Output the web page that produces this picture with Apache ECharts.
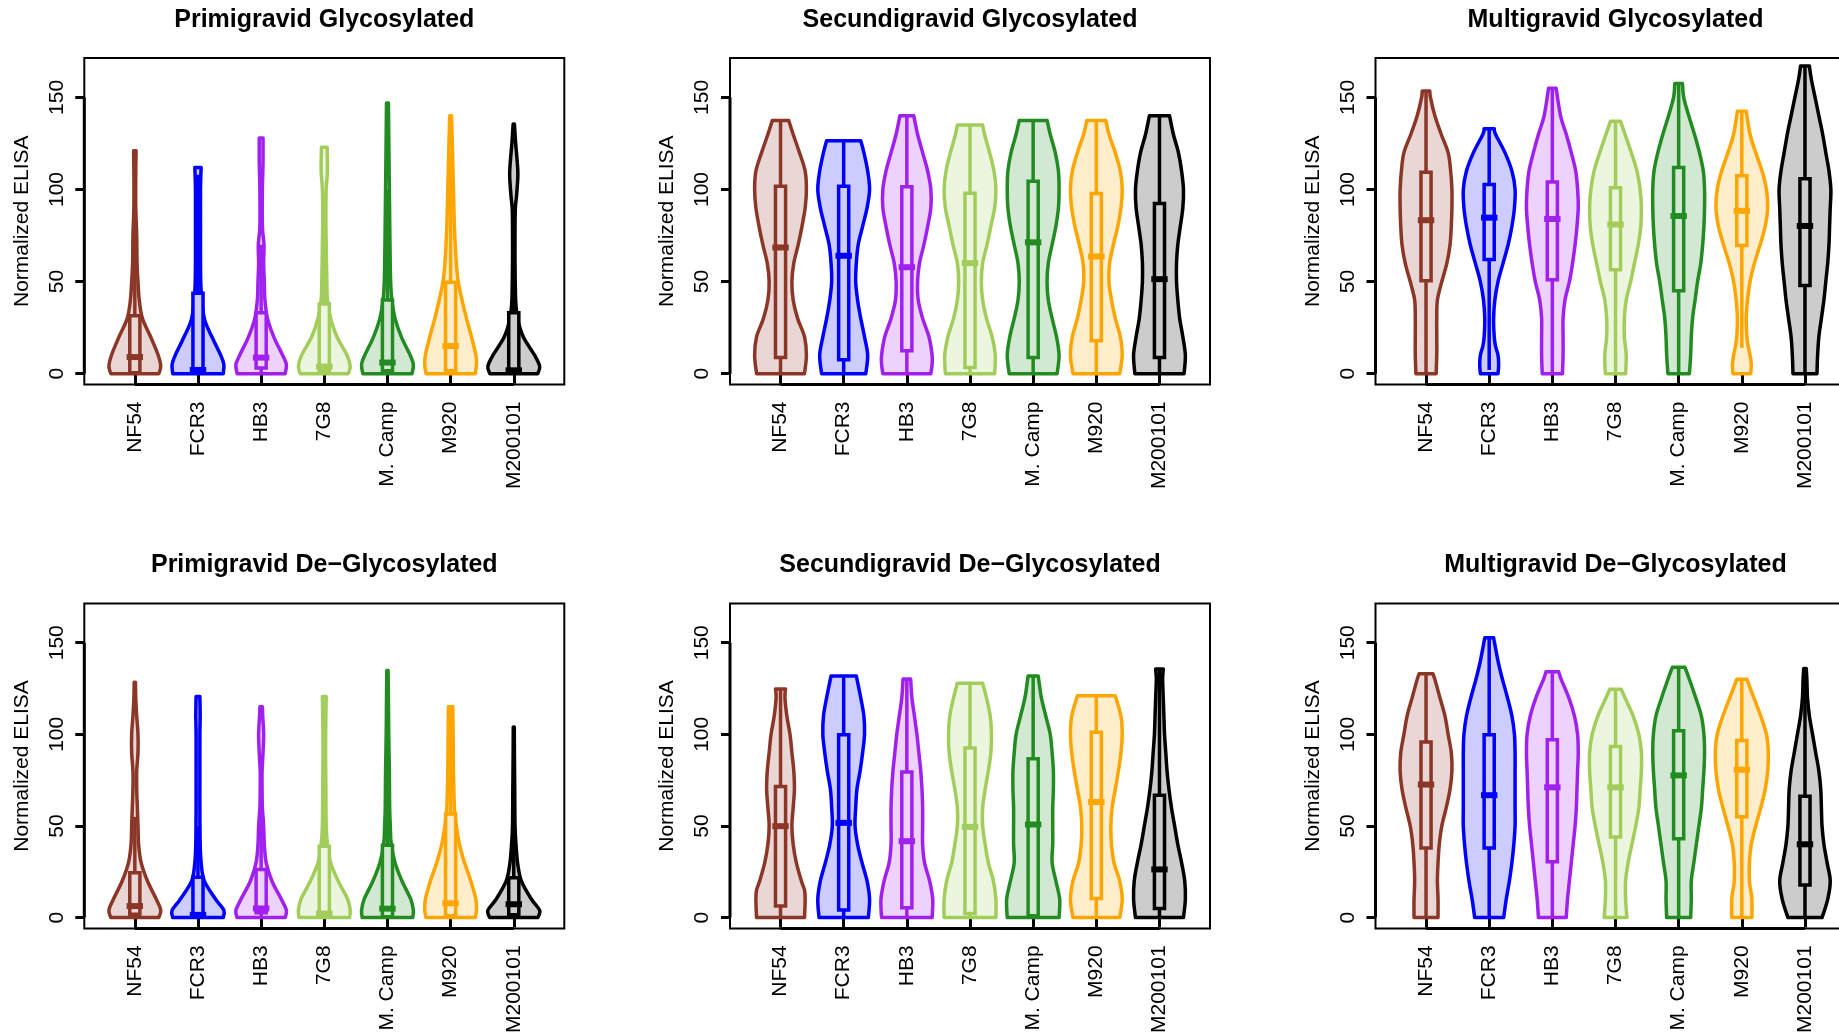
<!DOCTYPE html>
<html><head><meta charset="utf-8">
<script src="https://cdn.jsdelivr.net/npm/echarts@6/dist/echarts.min.js"></script>
<style>html,body{margin:0;padding:0;background:#fff;overflow:hidden}#c{width:1900px;height:1036px}</style>
</head><body><div id="c"></div>
<script>
// ---------- data ----------
const categories = ['NF54', 'FCR3', 'HB3', '7G8', 'M. Camp', 'M920', 'M200101'];
const xTicks = [1, 2, 3, 4, 5, 6, 7];
const yTicks = [0, 50, 100, 150];
const panelTitles = ['Primigravid Glycosylated', 'Secundigravid Glycosylated', 'Multigravid Glycosylated',
  'Primigravid De\u2212Glycosylated', 'Secundigravid De\u2212Glycosylated', 'Multigravid De\u2212Glycosylated'];
const yName = 'Normalized ELISA';
const borderColors = ['#8B3626', '#0000FF', '#A020F0', '#A2CD5A', '#228B22', '#FFA500', '#000000'];
const fillColors = ['#E8D7D4', '#CCCCFF', '#ECD2FC', '#ECF5DE', '#D3E8D3', '#FFEDCC', '#CCCCCC'];

// violin outlines: [value, half-width in category units]
const primiGlyShapes = [
  [[0,.38],[4,.41],[10,.37],[20,.25],[30,.12],[40,.07],[50,.05],[60,.035],[75,.03],[90,.015],[110,.015],[121,.02]],
  [[0,.40],[5,.41],[10,.36],[20,.22],[30,.10],[45,.05],[60,.04],[80,.04],[100,.04],[112,.05]],
  [[0,.38],[5,.40],[10,.34],[20,.20],[30,.10],[40,.06],[50,.05],[60,.04],[70,.045],[80,.02],[100,.02],[115,.03],[128,.03]],
  [[0,.38],[4,.41],[10,.36],[20,.20],[30,.10],[40,.05],[50,.04],[70,.03],[85,.025],[100,.03],[110,.05],[123,.045]],
  [[0,.39],[5,.41],[10,.36],[20,.22],[30,.12],[40,.07],[50,.05],[70,.04],[100,.03],[130,.02],[147,.015]],
  [[0,.39],[5,.41],[10,.40],[20,.33],[30,.25],[40,.18],[50,.12],[60,.09],[80,.06],[100,.045],[120,.03],[140,.015]],
  [[0,.38],[4,.41],[10,.33],[20,.15],[30,.06],[40,.03],[60,.02],[80,.02],[90,.025],[97,.045],[108,.065],[117,.05],[125,.03],[135.5,.01]]
];
const secGlyShapes = [
  [[0,.38],[10,.41],[20,.38],[30,.27],[40,.20],[50,.18],[60,.21],[70,.28],[80,.34],[90,.39],[100,.41],[110,.39],[120,.30],[130,.20],[137.5,.13]],
  [[0,.35],[10,.38],[20,.33],[30,.27],[40,.22],[50,.19],[60,.20],[70,.23],[80,.30],[90,.37],[100,.41],[110,.38],[120,.32],[126.5,.27]],
  [[0,.38],[5,.40],[10,.40],[20,.35],[30,.25],[40,.18],[50,.17],[60,.20],[70,.27],[80,.33],[90,.38],[100,.38],[110,.33],[120,.25],[130,.17],[140,.11]],
  [[0,.39],[10,.40],[20,.35],[30,.26],[40,.20],[50,.18],[60,.20],[70,.27],[80,.33],[90,.39],[100,.41],[110,.38],[120,.31],[130,.23],[135,.20]],
  [[0,.38],[10,.41],[20,.37],[30,.30],[40,.24],[50,.22],[60,.24],[70,.30],[80,.36],[90,.40],[100,.41],[110,.40],[120,.35],[130,.27],[137.5,.22]],
  [[0,.37],[10,.41],[20,.38],[30,.30],[40,.24],[50,.20],[60,.21],[70,.27],[80,.34],[90,.39],[100,.41],[110,.38],[120,.30],[130,.20],[137.5,.15]],
  [[0,.39],[10,.41],[20,.37],[30,.32],[40,.29],[50,.27],[60,.27],[70,.29],[80,.33],[90,.37],[100,.38],[110,.35],[120,.30],[130,.22],[140,.16]]
];
const multiGlyShapes = [
  [[0,.16],[10,.17],[20,.17],[30,.17],[40,.18],[50,.25],[60,.33],[70,.38],[80,.40],[90,.41],[100,.41],[110,.39],[120,.35],[130,.24],[140,.14],[150,.07],[153.5,.06]],
  [[0,.14],[5,.15],[10,.14],[15,.10],[20,.08],[30,.07],[40,.09],[50,.14],[60,.22],[70,.30],[80,.36],[90,.40],[100,.41],[110,.36],[120,.25],[130,.10],[133,.08]],
  [[0,.16],[10,.17],[20,.17],[30,.17],[40,.20],[50,.27],[60,.32],[70,.36],[80,.39],[90,.41],[100,.40],[110,.37],[120,.30],[130,.22],[140,.13],[155,.06]],
  [[0,.16],[10,.17],[20,.14],[30,.14],[40,.17],[50,.24],[60,.30],[70,.36],[80,.40],[90,.41],[100,.39],[110,.34],[120,.25],[130,.15],[137,.08]],
  [[0,.17],[10,.19],[20,.20],[30,.22],[40,.26],[50,.30],[60,.35],[70,.38],[80,.40],[90,.41],[100,.41],[110,.39],[120,.33],[130,.25],[140,.16],[150,.08],[157.5,.06]],
  [[0,.14],[5,.15],[10,.13],[15,.10],[20,.08],[30,.07],[40,.09],[50,.13],[60,.20],[70,.29],[80,.37],[90,.41],[100,.39],[110,.32],[120,.22],[130,.13],[142.5,.07]],
  [[0,.19],[10,.20],[20,.22],[30,.26],[40,.30],[50,.33],[60,.36],[70,.38],[80,.39],[90,.40],[100,.41],[110,.38],[120,.33],[130,.28],[140,.22],[150,.16],[160,.10],[167,.07]]
];
const primiDeShapes = [
  [[0,.38],[4,.41],[10,.34],[20,.20],[30,.10],[40,.06],[50,.05],[60,.04],[70,.03],[80,.03],[90,.05],[100,.05],[110,.03],[120,.015],[128.4,.01]],
  [[0,.40],[4,.41],[10,.28],[20,.10],[30,.05],[40,.035],[60,.03],[80,.03],[100,.03],[110,.035],[120.6,.03]],
  [[0,.38],[4,.40],[10,.32],[20,.17],[30,.08],[40,.05],[50,.04],[60,.02],[70,.015],[80,.015],[90,.03],[100,.04],[110,.025],[115,.02]],
  [[0,.40],[4,.41],[10,.37],[20,.22],[30,.10],[40,.05],[50,.03],[70,.025],[90,.02],[110,.025],[120.6,.03]],
  [[0,.40],[4,.41],[10,.37],[20,.23],[30,.12],[40,.06],[50,.045],[60,.035],[80,.03],[100,.02],[120,.015],[134.8,.01]],
  [[0,.39],[4,.41],[10,.40],[20,.32],[30,.22],[40,.14],[50,.09],[60,.06],[80,.045],[100,.04],[115,.035]],
  [[0,.38],[4,.41],[10,.28],[20,.12],[30,.06],[40,.035],[50,.02],[70,.015],[90,.01],[104,.008]]
];
const secDeShapes = [
  [[0,.38],[10,.39],[15,.38],[20,.33],[30,.25],[40,.20],[50,.18],[60,.20],[70,.22],[80,.21],[90,.18],[100,.15],[110,.10],[120,.07],[124.8,.08]],
  [[0,.39],[10,.41],[20,.37],[30,.29],[40,.22],[50,.18],[60,.19],[70,.21],[80,.26],[90,.30],[100,.33],[110,.32],[120,.27],[131.9,.20]],
  [[0,.40],[10,.41],[20,.36],[30,.28],[40,.25],[50,.25],[60,.25],[70,.24],[80,.22],[90,.19],[100,.16],[110,.12],[120,.08],[130.2,.06]],
  [[0,.41],[10,.41],[20,.37],[30,.29],[40,.24],[50,.20],[60,.20],[70,.24],[80,.29],[90,.33],[100,.34],[110,.32],[120,.26],[127.9,.20]],
  [[0,.41],[10,.42],[20,.36],[30,.30],[40,.31],[50,.31],[60,.31],[70,.32],[80,.32],[90,.30],[100,.27],[110,.20],[120,.13],[131.9,.08]],
  [[0,.37],[10,.41],[20,.37],[30,.28],[40,.24],[50,.23],[60,.25],[70,.30],[80,.35],[90,.39],[100,.41],[110,.39],[121,.30]],
  [[0,.38],[10,.41],[20,.40],[30,.35],[40,.29],[50,.24],[60,.19],[70,.15],[80,.12],[90,.10],[100,.08],[110,.07],[120,.06],[130,.05],[135.7,.06]]
];
const multiDeShapes = [
  [[0,.19],[10,.19],[20,.18],[30,.19],[40,.21],[50,.25],[60,.32],[70,.38],[80,.41],[90,.40],[100,.35],[110,.30],[120,.22],[130,.14],[133,.11]],
  [[0,.23],[10,.27],[20,.32],[30,.36],[40,.39],[50,.41],[60,.41],[70,.41],[80,.41],[90,.41],[100,.40],[110,.36],[120,.29],[130,.21],[140,.14],[152.7,.07]],
  [[0,.22],[10,.24],[20,.27],[30,.30],[40,.33],[50,.36],[60,.38],[70,.39],[80,.40],[90,.41],[100,.40],[110,.35],[120,.26],[130,.14],[134.2,.10]],
  [[0,.18],[10,.16],[20,.16],[30,.20],[40,.26],[50,.32],[60,.37],[70,.39],[80,.41],[90,.41],[100,.37],[110,.28],[120,.15],[124.6,.09]],
  [[0,.19],[10,.20],[20,.20],[30,.24],[40,.28],[50,.32],[60,.36],[70,.38],[80,.40],[90,.41],[100,.40],[110,.36],[120,.27],[130,.17],[136.6,.10]],
  [[0,.16],[10,.16],[15,.14],[20,.12],[30,.12],[40,.15],[50,.22],[60,.30],[70,.37],[80,.41],[90,.42],[100,.39],[110,.30],[120,.19],[130,.08]],
  [[0,.27],[10,.36],[20,.40],[30,.35],[40,.30],[50,.27],[60,.26],[70,.25],[80,.22],[90,.17],[100,.12],[110,.07],[120,.04],[130,.03],[136,.02]]
];

// box statistics per panel
const primiGlyQ1 = [0.5, 0.5, 3, 1.5, 1.5, 1.5, 1.5];
const primiGlyMed = [9, 2, 8.7, 3.8, 6, 15, 1.8];
const primiGlyQ3 = [31.5, 43.6, 33, 37.8, 40, 49.6, 33];
const primiGlyLo = [0, 0, 0, 0, 0, 0, 0];
const primiGlyHi = [78, 108, 70, 87, 100, 120, 80];

const secGlyQ1 = [8.7, 7.5, 12.4, 3.3, 8.7, 17.8, 8.7];
const secGlyMed = [68.5, 64, 57.8, 60, 71.3, 63.6, 51.3];
const secGlyQ3 = [101.8, 101.8, 101.5, 98, 104.5, 97.8, 92.4];
const secGlyLo = [0, 0, 0, 0, 0, 0, 0];
const secGlyHi = [137.5, 126.5, 140, 135, 137.5, 137.5, 140];

const multiGlyQ1 = [50.5, 62, 51, 56.4, 45, 69.6, 47.8];
const multiGlyMed = [83.3, 84.7, 84, 81, 85.6, 88.4, 80.2];
const multiGlyQ3 = [109.3, 102.7, 104, 101, 112, 107.5, 105.8];
const multiGlyLo = [0, 2, 0, 0, 0, 14, 0];
const multiGlyHi = [153.5, 133, 155, 137, 157.5, 142.5, 167];

const primiDeQ1 = [1.8, 1, 2.7, 0.5, 0.5, 1, 1.5];
const primiDeMed = [6.3, 1.5, 5, 2.2, 4.9, 7.8, 7.3];
const primiDeQ3 = [24.5, 22, 26.3, 39, 39.5, 56.6, 21.8];
const primiDeLo = [0, 0, 0, 0, 0, 0, 0];
const primiDeHi = [55, 50, 60, 95, 98, 115, 50];

const secDeQ1 = [6.3, 4.2, 5.4, 2.2, 1, 10.5, 5];
const secDeMed = [49.9, 51.7, 41.7, 49.5, 50.8, 63.1, 26.3];
const secDeQ3 = [71.6, 99.8, 79.4, 92.5, 86.7, 101.2, 66.8];
const secDeLo = [0, 0, 0, 0, 0, 0, 0];
const secDeHi = [124.8, 131.9, 130.2, 127.9, 131.9, 121, 135.7];

const multiDeQ1 = [38, 38, 30.5, 44, 43, 55, 17.8];
const multiDeMed = [72.6, 66.8, 71.1, 71.1, 77.6, 80.7, 40];
const multiDeQ3 = [95.8, 99.8, 97, 93.4, 102, 96.7, 66.2];
const multiDeLo = [0, 0, 0, 0, 0, 0, 0];
const multiDeHi = [133, 152.7, 134.2, 124.6, 136.6, 130, 136];

// ---------- layout / style ----------
const X_MIN = 0.2, X_MAX = 7.8, Y_MIN = -5.9, Y_MAX = 171.4;
const BOX_HW = 0.08, MED_HW = 0.13;
const colLeft = [84.3, 730, 1375.5];
const rowTop = [58, 603.5];
const panelW = 480, panelH = 326.5;
const titleY = [20, 565];
const FONT = 'Liberation Sans, Arial, Helvetica, sans-serif';
const LW = 3.5;

const panels = [
  {shapes: primiGlyShapes, q1: primiGlyQ1, med: primiGlyMed, q3: primiGlyQ3, lo: primiGlyLo, hi: primiGlyHi},
  {shapes: secGlyShapes, q1: secGlyQ1, med: secGlyMed, q3: secGlyQ3, lo: secGlyLo, hi: secGlyHi},
  {shapes: multiGlyShapes, q1: multiGlyQ1, med: multiGlyMed, q3: multiGlyQ3, lo: multiGlyLo, hi: multiGlyHi},
  {shapes: primiDeShapes, q1: primiDeQ1, med: primiDeMed, q3: primiDeQ3, lo: primiDeLo, hi: primiDeHi},
  {shapes: secDeShapes, q1: secDeQ1, med: secDeMed, q3: secDeQ3, lo: secDeLo, hi: secDeHi},
  {shapes: multiDeShapes, q1: multiDeQ1, med: multiDeMed, q3: multiDeQ3, lo: multiDeLo, hi: multiDeHi}
];

function buildCurve(P, cx, side) {
  let d = '';
  const n = P.length;
  for (let k = 0; k < n - 1; k++) {
    const p0 = P[Math.max(k - 1, 0)], p1 = P[k], p2 = P[k + 1], p3 = P[Math.min(k + 2, n - 1)];
    let c1x = p1[0] + (p2[0] - p0[0]) / 6, c1y = p1[1] + (p2[1] - p0[1]) / 6;
    let c2x = p2[0] - (p3[0] - p1[0]) / 6, c2y = p2[1] - (p3[1] - p1[1]) / 6;
    if (side < 0) { c1x = Math.min(c1x, cx); c2x = Math.min(c2x, cx); }
    else { c1x = Math.max(c1x, cx); c2x = Math.max(c2x, cx); }
    d += ' C' + c1x + ',' + c1y + ' ' + c2x + ',' + c2y + ' ' + p2[0] + ',' + p2[1];
  }
  return d;
}

function violinRenderer(p) {
  return function (params, api) {
    const i = params.dataIndex;
    const c = api.value(0);
    const pts = p.shapes[i];
    const cx = api.coord([c, 0])[0];
    const L = pts.map(q => api.coord([c - q[1], q[0]]));
    const R = pts.map(q => api.coord([c + q[1], q[0]])).reverse();
    const d = 'M' + L[0][0] + ',' + L[0][1] + buildCurve(L, cx, -1) +
      ' L' + R[0][0] + ',' + R[0][1] + buildCurve(R, cx, 1) + ' Z';
    const b1 = api.coord([c - BOX_HW, p.q3[i]]), b2 = api.coord([c + BOX_HW, p.q1[i]]);
    const w1 = api.coord([c, p.lo[i]]), w2 = api.coord([c, p.hi[i]]);
    const m1 = api.coord([c - MED_HW, p.med[i]]), m2 = api.coord([c + MED_HW, p.med[i]]);
    const col = borderColors[i], fill = fillColors[i];
    return {type: 'group', children: [
      {type: 'path', shape: {pathData: d}, style: {fill: fill, stroke: col, lineWidth: LW, lineJoin: 'round'}},
      {type: 'line', shape: {x1: w1[0], y1: w1[1], x2: w2[0], y2: w2[1]}, style: {stroke: col, lineWidth: LW}},
      {type: 'rect', shape: {x: b1[0], y: b1[1], width: b2[0] - b1[0], height: b2[1] - b1[1]},
        style: {fill: fill, stroke: col, lineWidth: LW}},
      {type: 'line', shape: {x1: m1[0], y1: m1[1], x2: m2[0], y2: m2[1]}, style: {stroke: col, lineWidth: 6}}
    ]};
  };
}

function axisRenderer(params, api) {
  const a1 = api.coord([xTicks[0], Y_MIN]), a2 = api.coord([xTicks[xTicks.length - 1], Y_MIN]);
  const b1 = api.coord([X_MIN, yTicks[0]]), b2 = api.coord([X_MIN, yTicks[yTicks.length - 1]]);
  return {type: 'group', children: [
    {type: 'line', shape: {x1: a1[0], y1: a1[1], x2: a2[0], y2: a2[1]}, style: {stroke: '#000', lineWidth: 3}},
    {type: 'line', shape: {x1: b1[0], y1: b1[1], x2: b2[0], y2: b2[1]}, style: {stroke: '#000', lineWidth: 3}}
  ]};
}

const grids = [], xAxes = [], yAxes = [], series = [], graphics = [];
panels.forEach((p, k) => {
  const r = Math.floor(k / 3), c = k % 3;
  grids.push({left: colLeft[c], top: rowTop[r], width: panelW, height: panelH,
    show: true, borderColor: '#000', borderWidth: 2, backgroundColor: 'transparent'});
  xAxes.push({type: 'value', gridIndex: k, min: X_MIN, max: X_MAX,
    axisLine: {show: false}, splitLine: {show: false},
    axisTick: {show: true, customValues: xTicks, length: 10, lineStyle: {color: '#000', width: 3}},
    axisLabel: {show: true, customValues: xTicks, rotate: 90, margin: 17, color: '#000',
      fontSize: 21, fontFamily: FONT, formatter: v => categories[Math.round(v) - 1]}});
  yAxes.push({type: 'value', gridIndex: k, min: Y_MIN, max: Y_MAX,
    name: yName, nameLocation: 'middle', nameGap: 52,
    nameTextStyle: {color: '#000', fontSize: 21, fontFamily: FONT},
    axisLine: {show: false}, splitLine: {show: false},
    axisTick: {show: true, customValues: yTicks, length: 9, lineStyle: {color: '#000', width: 3}},
    axisLabel: {show: true, customValues: yTicks, rotate: 90, margin: 17, color: '#000',
      fontSize: 21, fontFamily: FONT}});
  series.push({type: 'custom', xAxisIndex: k, yAxisIndex: k, silent: true, clip: false,
    renderItem: violinRenderer(p), encode: {x: 0, y: 1},
    data: xTicks.map(v => [v, 0])});
  series.push({type: 'custom', xAxisIndex: k, yAxisIndex: k, silent: true, clip: false,
    renderItem: axisRenderer, encode: {x: 0, y: 1}, data: [[X_MIN, Y_MIN]]});
  graphics.push({type: 'text', x: colLeft[c] + panelW / 2, y: titleY[r], silent: true,
    style: {text: panelTitles[k], align: 'center', verticalAlign: 'middle', fill: '#000',
      fontSize: 25, fontWeight: 'bold', fontFamily: FONT}});
});

const chart = echarts.init(document.getElementById('c'), null, {renderer: 'canvas'});
chart.setOption({
  animation: false,
  backgroundColor: '#fff',
  grid: grids, xAxis: xAxes, yAxis: yAxes, series: series,
  graphic: graphics
});
</script></body></html>
